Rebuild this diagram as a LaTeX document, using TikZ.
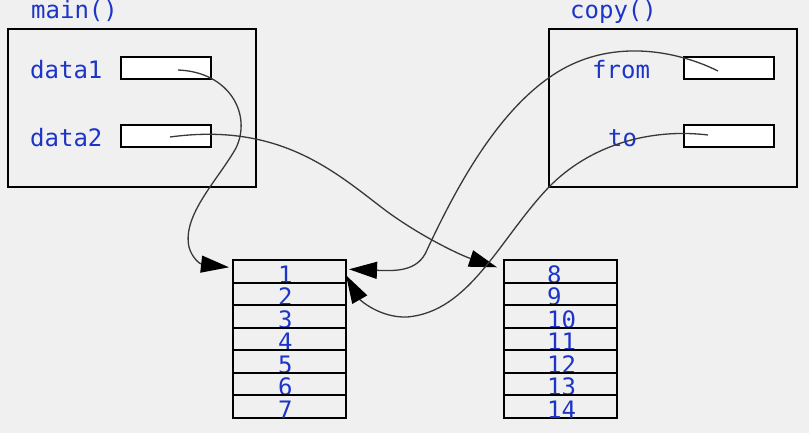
\documentclass[tikz,border=0pt]{standalone}
\usepackage{fontspec}
\setmonofont{DejaVu Sans Mono}
\usetikzlibrary{arrows.meta}
\definecolor{bg}{HTML}{F0F0F0}
\definecolor{txt}{RGB}{28,52,200}
\definecolor{wire}{HTML}{383838}
\begin{document}
\begin{tikzpicture}[x=1pt,y=-1pt,
  lbl/.style={anchor=base west,inner sep=0pt,font=\ttfamily\fontsize{24}{24}\selectfont,text=txt},
  frame/.style={draw=black,line width=1.9pt,anchor=north west,minimum width=248pt,minimum height=158pt,inner sep=0pt,outer sep=0pt},
  slot/.style={draw=black,fill=white,line width=1.7pt,anchor=north west,minimum width=90pt,minimum height=22pt,inner sep=0pt,outer sep=0pt},
  cell/.style={draw=black,line width=2pt,anchor=north west,minimum width=113pt,minimum height=22.57pt,inner sep=0pt,outer sep=0pt},
  link/.style={draw=wire,line width=1.3pt,-{Triangle[length=28pt,width=17pt,color=black,fill=black]}}]
\useasboundingbox (0,0) rectangle (809,433);
\fill[bg] (0,0) rectangle (809,433);
% frames
\node[frame] (mainf) at (8,29) {};
\node[frame] (copyf) at (549,29) {};
\node[lbl] (mainl) at (31,19) {main()};
\node[lbl] (copyl) at (570,19) {copy()};
\node[lbl] (d1l) at (30,79) {data1};
\node[lbl] (d2l) at (30,147) {data2};
\node[lbl] (froml) at (592,79) {from};
\node[lbl] (tol) at (608,147) {to};
\node[slot] (d1) at (121,57) {};
\node[slot] (d2) at (121,125) {};
\node[slot] (fr) at (684,57) {};
\node[slot] (to) at (684,125) {};
% arrays
\foreach \i in {1,...,7}{
  \node[cell] (a\i) at (233,{260+(\i-1)*22.57}) {};
  \node[lbl] (an\i) at (278,{260+\i*22.57+0.5}) {\i};
}
\foreach \i [evaluate=\i as \v using int(\i+7)] in {1,...,7}{
  \node[cell] (b\i) at (504,{260+(\i-1)*22.57}) {};
  \node[lbl] (bn\i) at (547,{260+\i*22.57+0.5}) {\v};
}
% pointer origins
\coordinate (s1) at (178,70);
\coordinate (s2) at (170,137);
\coordinate (s3) at (718,71);
\coordinate (s4) at (708,135);
% connectors
\draw[link] (s1) .. controls (230,72) and (252,115) .. (236,148)
  .. controls (218,180) and (182,215) .. (189,247)
  .. controls (192,258) and (200,264) .. ([xshift=-4pt,yshift=4pt]a1.west);
\draw[link] (s2) .. controls (280,122) and (335,172) .. (385,210)
  .. controls (420,236) and (460,255) .. ([xshift=-7pt,yshift=4pt]b1.west);
\draw[link] (s3) .. controls (680,52) and (610,35) .. (550,77)
  .. controls (495,115) and (455,190) .. (427,250)
  .. controls (418,272) and (395,271) .. ([xshift=3pt,yshift=2pt]a1.east);
\draw[link] (s4) .. controls (650,128) and (590,145) .. (549,187)
  .. controls (500,238) and (470,312) .. (407,317)
  .. controls (380,318) and (360,300) .. ([yshift=-4pt]a1.east);
\end{tikzpicture}
\end{document}
